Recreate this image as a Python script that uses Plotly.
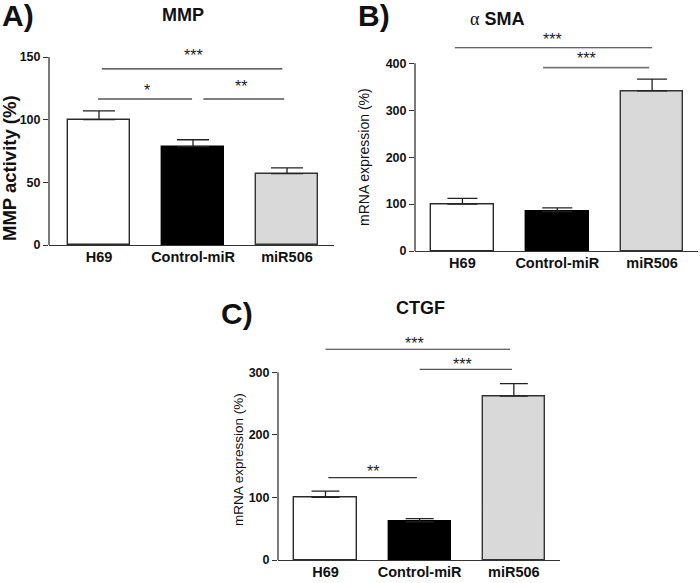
import plotly.graph_objects as go

# ---------------- data ----------------
groups = ["H69", "Control-miR", "miR506"]
bar_colors = ["#ffffff", "#000000", "#d9d9d9"]

mmp_mean = [100, 78.5, 57]
mmp_err = [7, 5.5, 4.5]
mmp_ticks = [0, 50, 100, 150]

sma_mean = [100, 84, 341]
sma_err = [12, 8, 25]
sma_ticks = [0, 100, 200, 300, 400]

ctgf_mean = [100, 61, 262]
ctgf_err = [10, 5, 20]
ctgf_ticks = [0, 100, 200, 300]

# significance brackets: (x0, x1, line height, label, label x, label height, line colour, width)
mmp_sig = [(0.03, 1.95, 140.5, "***", 1.01, 153.5, "#333333", 1.2),
           (-0.01, 0.99, 116.5, "*", 0.51, 126, "#555555", 1.5),
           (1.11, 1.97, 116.5, "**", 1.51, 129, "#555555", 1.5)]
sma_sig = [(-0.08, 2.0, 433, "***", 0.95, 456, "#333333", 1.2),
           (0.85, 1.97, 390.6, "***", 1.31, 416, "#777777", 1.6)]
ctgf_sig = [(0.0, 1.96, 336.8, "***", 0.95, 351, "#333333", 1.2),
            (1.0, 1.98, 304.8, "***", 1.46, 318, "#555555", 1.3),
            (0.03, 0.97, 131.6, "**", 0.5, 146, "#333333", 1.2)]

W, H = 700, 583
FONT = "Liberation Sans, Arial, sans-serif"
AX = "#333333"

def px_x(p):
    return p / W

def px_y(p):
    return 1 - p / H

panels = [
    dict(mean=mmp_mean, err=mmp_err, ticks=mmp_ticks, sig=mmp_sig,
         xd=(49, 334), yd=(245, 32), xr=(-0.532, 2.5), ymax=170, cap=16),
    dict(mean=sma_mean, err=sma_err, ticks=sma_ticks, sig=sma_sig,
         xd=(415, 698), yd=(251, 30.4), xr=(-0.5, 2.484), ymax=470, cap=15),
    dict(mean=ctgf_mean, err=ctgf_err, ticks=ctgf_ticks, sig=ctgf_sig,
         xd=(278, 560), yd=(560, 328.5), xr=(-0.504, 2.49), ymax=370, cap=14),
]

fig = go.Figure()
shapes = []
annotations = []
xs = list(range(len(groups)))

for i, p in enumerate(panels):
    n = "" if i == 0 else str(i + 1)
    xa, ya = "x" + n, "y" + n
    fig.add_trace(go.Bar(
        x=xs, y=p["mean"], width=0.66, xaxis=xa, yaxis=ya,
        marker=dict(color=bar_colors, line=dict(color=["#2a2a2a", "#000000", "#333333"], width=1.4)),
        error_y=dict(type="data", array=p["err"], arrayminus=[0] * 3, symmetric=False,
                     color="#222222", thickness=1.3, width=p["cap"]),
        showlegend=False, hoverinfo="skip",
    ))
    xkey = "xaxis" + n
    ykey = "yaxis" + n
    fig.layout[xkey] = dict(
        domain=[px_x(p["xd"][0]), px_x(p["xd"][1])], range=list(p["xr"]),
        anchor=ya, tickvals=xs, ticktext=groups, ticks="", ticklen=0,
        showline=True, linecolor=AX, linewidth=1.3, showgrid=False, zeroline=False,
        tickfont=dict(family=FONT, size=14.5, color="#111111", weight="bold"),
        ticklabelstandoff=-2, automargin=False, fixedrange=True,
    )
    fig.layout[ykey] = dict(
        domain=[px_y(p["yd"][0]), px_y(p["yd"][1])], range=[0, p["ymax"]],
        anchor=xa, tickvals=p["ticks"], ticks="outside", ticklen=5, tickwidth=1.3,
        tickcolor=AX, showline=False, showgrid=False, zeroline=False,
        tickfont=dict(family=FONT, size=12.5, color="#111111", weight="bold"),
        automargin=False, fixedrange=True,
    )
    shapes.append(dict(type="line", xref=xa + " domain", yref=ya + " domain",
                       x0=0, x1=0, y0=0, y1=p["ticks"][-1] / p["ymax"],
                       line=dict(color=AX, width=1.3)))
    for (x0, x1, h, lab, lx, ly, lc, lw) in p["sig"]:
        shapes.append(dict(type="line", xref=xa, yref=ya, x0=x0, x1=x1, y0=h, y1=h,
                           line=dict(color=lc, width=lw)))
        annotations.append(dict(xref=xa, yref=ya, x=lx, y=ly, text=lab, showarrow=False,
                                font=dict(family=FONT, size=16, color="#1a1a1a"),
                                xanchor="center", yanchor="middle", yshift=-3))

def txt(x, y, s, size, bold=True, angle=0):
    annotations.append(dict(xref="paper", yref="paper", x=px_x(x), y=px_y(y), text=s,
                            showarrow=False, textangle=angle, xanchor="center", yanchor="middle",
                            font=dict(family=FONT, size=size, color="#111111",
                                      weight="bold" if bold else "normal")))

# panel letters
txt(18, 15, "A)", 30)
txt(374, 15, "B)", 30)
txt(237, 314, "C)", 30)
# titles
txt(183, 15, "MMP", 18)
txt(497, 19, '<span style="font-family:Liberation Serif;font-weight:normal">α</span> SMA', 18)
txt(420, 308, "CTGF", 18)
# y axis titles
txt(9, 168, "MMP activity (%)", 18.5, True, -90)
txt(364, 157, "mRNA expression (%)", 14, False, -90)
txt(238, 460, "mRNA expression (%)", 13.5, False, -90)

fig.update_layout(
    width=W, height=H, margin=dict(l=0, r=0, t=0, b=0),
    paper_bgcolor="white", plot_bgcolor="white",
    shapes=shapes, annotations=annotations, bargap=0,
)

fig.write_html("out.html", config={"displayModeBar": False},
               post_script="document.body.style.margin='0px';")
